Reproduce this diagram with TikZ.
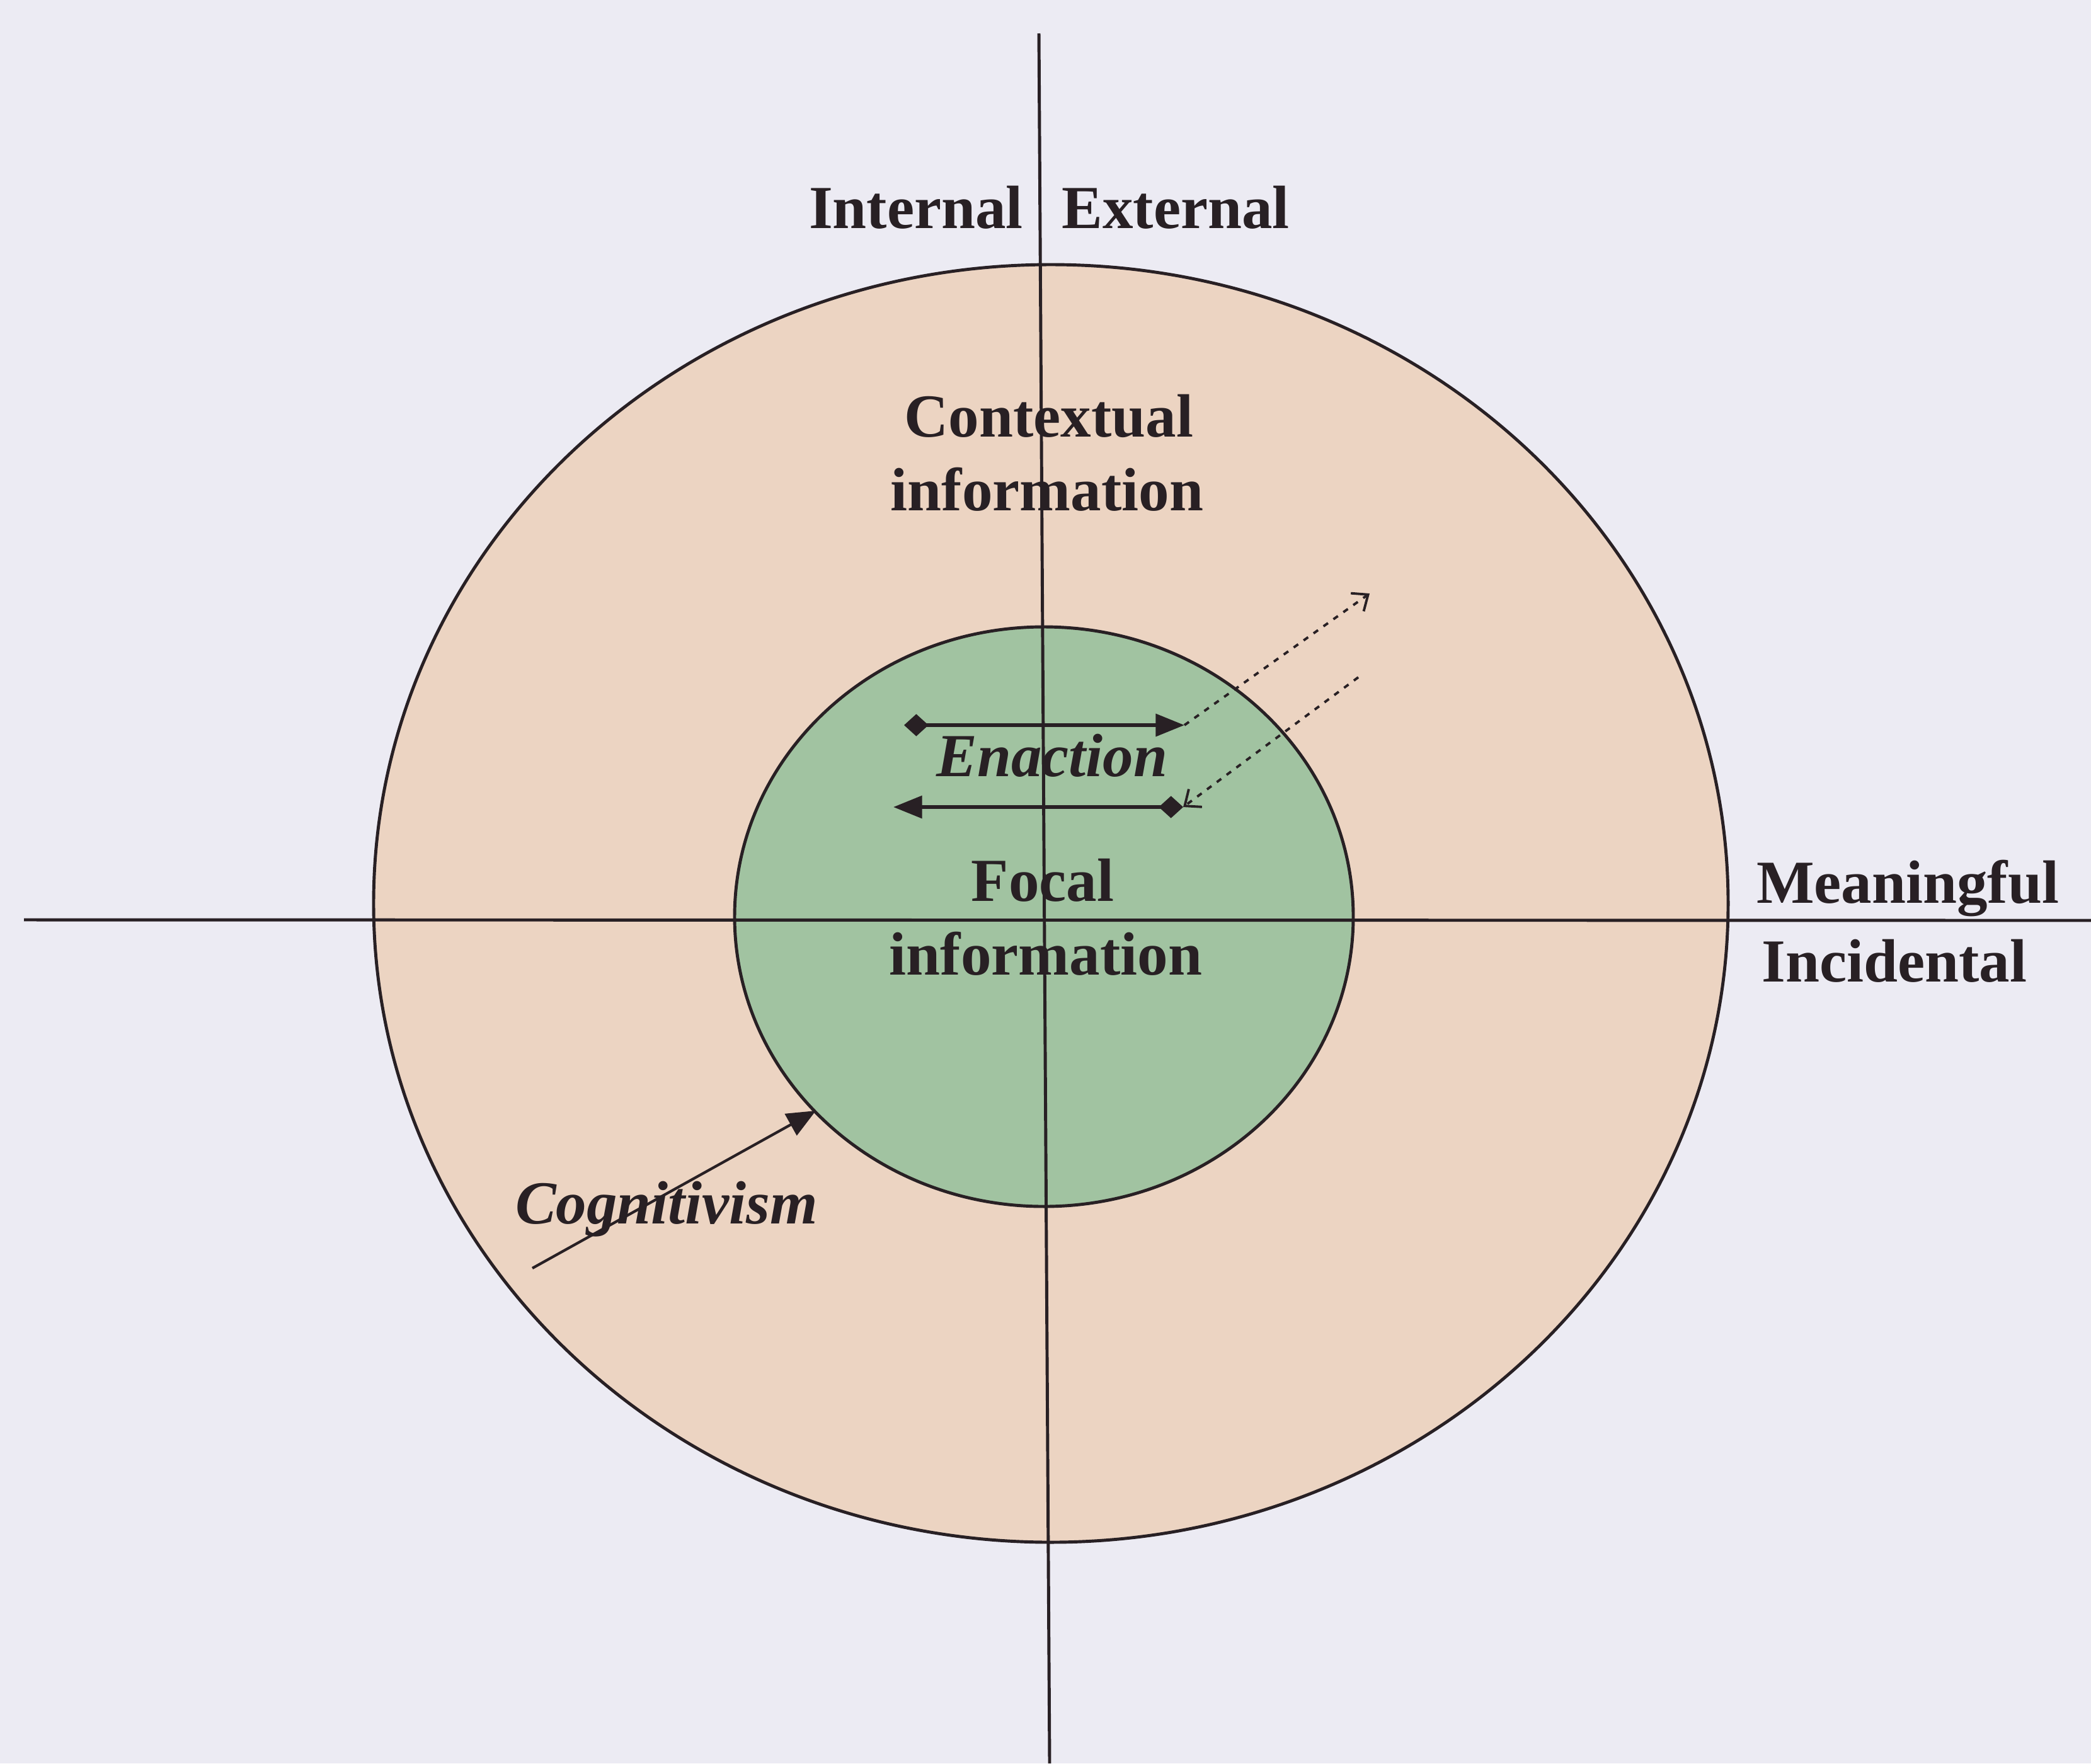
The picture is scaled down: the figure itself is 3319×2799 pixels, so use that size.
\documentclass[tikz,border=0pt]{standalone}
\usepackage{fontspec}
\setmainfont{Liberation Serif}
\usepackage{tikz}
\usetikzlibrary{arrows.meta}
\definecolor{pagebg}{RGB}{236,235,243}
\definecolor{outerfill}{RGB}{236,212,194}
\definecolor{innerfill}{RGB}{161,195,161}
\definecolor{ink}{RGB}{40,32,36}
\tikzset{
  lab/.style={anchor=base, text=ink, font=\fontsize{27.6}{33}\selectfont\bfseries},
  itlab/.style={lab, font=\fontsize{27.6}{33}\selectfont\bfseries\itshape},
  axis/.style={ink, line width=1.4pt},
  enarrow/.style={ink, line width=1.7pt, {Diamond[length=11pt,width=10pt]}-{Triangle[length=13pt,width=10pt]}},
  dotarrow/.style={ink, line width=1.1pt, dash pattern=on 2.5pt off 3pt, -{Straight Barb[length=6pt,width=10pt]}}
}
\begin{document}
\begin{tikzpicture}[x=0.01cm, y=0.01cm]
\tikzstyle{every node}+=[inner sep=0pt]
\useasboundingbox (0,0) rectangle (3319,-2799);
\fill [pagebg] (0,0) rectangle (3319,-2799);
\draw [axis, fill=outerfill] (1668,-1434) ellipse (1075 and 1014);
\draw [axis, fill=innerfill] (1657,-1455) ellipse (491 and 460);
\coordinate (axtop) at (1649,-53);
\coordinate (axbot) at (1666,-2799);
\coordinate (axleft) at (38,-1460);
\coordinate (axright) at (3319,-1461);
\draw [axis] (axtop) -- (axbot);
\draw [axis] (axleft) -- (axright);
% enaction
\coordinate (enA) at (1435,-1151);
\coordinate (enB) at (1880,-1151);
\coordinate (enC) at (1878,-1281);
\coordinate (enD) at (1418,-1281);
\coordinate (enOut) at (2174,-942);
\coordinate (enIn) at (2156,-1075);
\draw [enarrow] (enA) -- (enB);
\draw [enarrow] (enC) -- (enD);
\draw [dotarrow] (enB) -- (enOut);
\draw [dotarrow] (enIn) -- (enC);
% cognitivism
\coordinate (cogA) at (845,-2013);
\coordinate (cogB) at (1295,-1763);
\draw [ink, line width=1.2pt, -{Triangle[length=13pt,width=11pt]}] (cogA) -- (cogB);
\node [lab] (internal) at (1454,-362) {Internal};
\node [lab] (external) at (1866,-362) {External};
\node [lab] (context1) at (1665,-693) {Contextual};
\node [lab] (context2) at (1662,-810) {information};
\node [itlab] (enaction) at (1670,-1232) {Enaction};
\node [lab] (focal1) at (1655,-1430) {Focal};
\node [lab] (focal2) at (1660,-1547) {information};
\node [lab] (meaningful) at (3028,-1433) {Meaningful};
\node [lab] (incidental) at (3007,-1558) {Incidental};
\node [itlab] (cognitivism) at (1058,-1942) {Cognitivism};
\end{tikzpicture}
\end{document}
